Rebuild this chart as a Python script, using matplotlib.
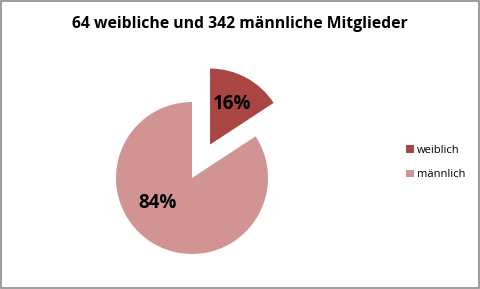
import matplotlib.pyplot as plt
from matplotlib.patches import Rectangle

labels = ["weiblich", "männlich"]
counts = [64, 342]
colors = ["#A94543", "#D19493"]
title = "64 weibliche und 342 männliche Mitglieder"

plt.rcParams["font.family"] = ["Open Sans", "DejaVu Sans"]

fig = plt.figure(figsize=(4.8, 2.89), dpi=100, facecolor="white")
fig.patches.append(Rectangle((0.002, 0.003), 0.995, 0.993, transform=fig.transFigure,
                             fill=False, edgecolor="#8c8c8c", linewidth=1.2))

# square axes in pixels so the pie stays round, centred on the pie
W, H = 480, 289
cx, cy, half = 192, 111, 152
ax = fig.add_axes([(cx - half) / W, (cy - half) / H, 2 * half / W, 2 * half / H])

wedges, texts, autotexts = ax.pie(
    counts, colors=colors, startangle=90, counterclock=False,
    explode=[0.5, 0], radius=1, autopct="%1.0f%%", pctdistance=0.6,
    wedgeprops=dict(linewidth=0), textprops=dict(fontsize=13.5, fontweight="bold", color="black"),
    frame=True,
)
ax.set_xlim(-2, 2)
ax.set_ylim(-2, 2)
ax.axis("off")
autotexts[1].set_position((-0.45, -0.33))

fig.text(0.5, 0.918, title, ha="center", va="center", fontsize=11.3, fontweight="bold")

fig.legend(wedges, labels, loc="center left", bbox_to_anchor=(0.825, 0.437),
           frameon=False, fontsize=8, handlelength=0.7, handleheight=0.7,
           handletextpad=0.3, labelspacing=1.2)

plt.savefig("out.png", dpi=100)
plt.close(fig)
